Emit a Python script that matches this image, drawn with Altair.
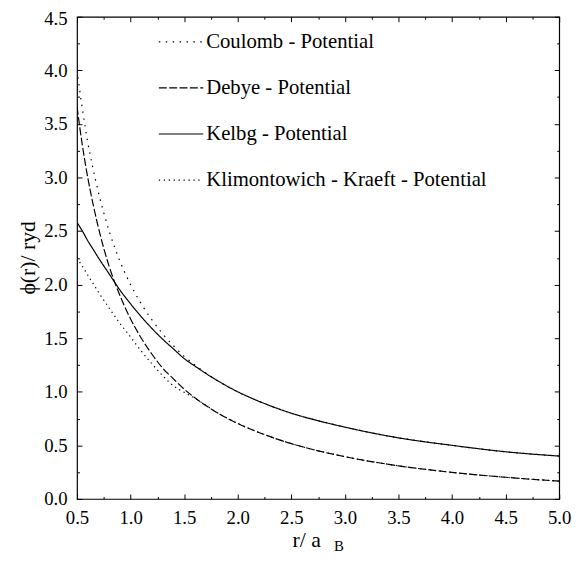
import altair as alt
import pandas as pd

# ---- data ----
r_values = [0.5, 0.55, 0.6, 0.65, 0.7, 0.8, 0.9, 1.0, 1.1, 1.2, 1.3, 1.4, 1.5, 1.6,
            1.8, 2.0, 2.25, 2.5, 2.75, 3.0, 3.5, 4.0, 4.5, 5.0]
coulomb = [4.00, 3.64, 3.33, 3.08, 2.86, 2.50, 2.22, 2.00, 1.82, 1.67, 1.54, 1.43, 1.33, 1.25,
           1.11, 1.00, 0.89, 0.80, 0.73, 0.67, 0.57, 0.50, 0.44, 0.40]
debye = [3.66, 3.30, 3.00, 2.75, 2.53, 2.17, 1.90, 1.68, 1.50, 1.35, 1.22, 1.12, 1.025, 0.944,
         0.81, 0.704, 0.60, 0.516, 0.449, 0.394, 0.309, 0.248, 0.202, 0.166]
kelbg = [2.58, 2.50, 2.41, 2.33, 2.25, 2.10, 1.95, 1.82, 1.70, 1.59, 1.49, 1.40, 1.31, 1.24,
         1.11, 1.00, 0.89, 0.80, 0.73, 0.67, 0.57, 0.50, 0.44, 0.40]
klimontowich = [2.25, 2.17, 2.09, 2.01, 1.93, 1.78, 1.64, 1.51, 1.38, 1.26, 1.15, 1.055, 0.995, 0.94,
                0.81, 0.704, 0.60, 0.516, 0.449, 0.394, 0.309, 0.248, 0.202, 0.166]

series_names = ["Coulomb - Potential", "Debye - Potential", "Kelbg - Potential",
                "Klimontowich - Kraeft - Potential"]
series_values = [coulomb, debye, kelbg, klimontowich]
dash_styles = [[1.5, 5.5], [8, 2.5], [1, 0], [1.3, 3.7]]

x_major = [0.5, 1.0, 1.5, 2.0, 2.5, 3.0, 3.5, 4.0, 4.5, 5.0]
x_minor = [0.75, 1.25, 1.75, 2.25, 2.75, 3.25, 3.75, 4.25, 4.75]
y_major = [0.0, 0.5, 1.0, 1.5, 2.0, 2.5, 3.0, 3.5, 4.0, 4.5]
y_minor = [0.25, 0.75, 1.25, 1.75, 2.25, 2.75, 3.25, 3.75, 4.25]

rows = []
for name, vals in zip(series_names, series_values):
    for r, v in zip(r_values, vals):
        rows.append({"r": r, "phi": v, "series": name})
df = pd.DataFrame(rows)

FONT = "Liberation Serif, Times New Roman, DejaVu Serif, serif"
xscale = alt.Scale(domain=[0.5, 5.0], nice=False, zero=False)
yscale = alt.Scale(domain=[0.0, 4.5], nice=False, zero=False)

base = alt.Chart(df)

main = base.mark_line(color="black", strokeWidth=1.2, interpolate="monotone", clip=True).encode(
    x=alt.X("r:Q", scale=xscale, axis=alt.Axis(
        orient="bottom", values=x_major, format=".1f", tickSize=5, offset=-5, domain=False,
        grid=False, labelFont=FONT, labelFontSize=19, labelColor="black", labelPadding=10,
        labelFlush=False, labelOverlap=False, tickColor="black", tickWidth=1,
        title="r/ a", titleFont=FONT, titleFontSize=22, titleFontWeight="normal",
        titleColor="black", titleX=218, titleY=53, titleAlign="left",
        titleBaseline="alphabetic")),
    y=alt.Y("phi:Q", scale=yscale, axis=alt.Axis(
        orient="left", values=y_major, format=".1f", tickSize=5, offset=-5, domain=False,
        grid=False, labelFont=FONT, labelFontSize=19, labelColor="black", labelPadding=10,
        labelOffset={"condition": {"test": "datum.value >= 4.5", "value": 2}, "value": 0},
        labelFlush=False, labelOverlap=False, tickColor="black", tickWidth=1,
        title="ϕ(r)/ ryd", titleFont=FONT, titleFontSize=22, titleFontWeight="normal",
        titleColor="black", titleX=-55, titleY=244, titleAngle=270, titleAlign="center",
        titleBaseline="middle")),
    strokeDash=alt.StrokeDash("series:N", scale=alt.Scale(domain=series_names, range=dash_styles),
        legend=alt.Legend(orient="none", legendX=82, legendY=2, title=None,
                          symbolType="stroke", symbolSize=2025, symbolStrokeWidth=1.2,
                          symbolStrokeColor="black", labelFont=FONT, labelFontSize=21,
                          labelColor="black", labelOffset=2, rowPadding=12.7, padding=0,
                          labelLimit=400)),
    detail="series:N",
)

minor_bl = base.mark_line(strokeOpacity=0).encode(
    x=alt.X("r:Q", scale=xscale, axis=alt.Axis(
        orient="bottom", values=x_minor, tickSize=2.5, offset=-2.5, domain=False, grid=False,
        labels=False, tickColor="black", tickWidth=1,
        title="B", titleFont=FONT, titleFontSize=15, titleFontWeight="normal",
        titleColor="black", titleX=260, titleY=55, titleAlign="left",
        titleBaseline="alphabetic")),
    y=alt.Y("phi:Q", scale=yscale, axis=alt.Axis(
        orient="left", values=y_minor, tickSize=2.5, offset=-2.5, domain=False, grid=False,
        labels=False, tickColor="black", tickWidth=1, title=None)),
    detail="series:N",
)

major_tr = base.mark_line(strokeOpacity=0).encode(
    x=alt.X("r:Q", scale=xscale, axis=alt.Axis(
        orient="top", values=x_major, tickSize=5, offset=-5, domain=False, grid=False,
        labels=False, tickColor="black", tickWidth=1, title=None)),
    y=alt.Y("phi:Q", scale=yscale, axis=alt.Axis(
        orient="right", values=y_major, tickSize=5, offset=-5, domain=False, grid=False,
        labels=False, tickColor="black", tickWidth=1, title=None)),
    detail="series:N",
)

minor_tr = base.mark_line(strokeOpacity=0).encode(
    x=alt.X("r:Q", scale=xscale, axis=alt.Axis(
        orient="top", values=x_minor, tickSize=2.5, offset=-2.5, domain=False, grid=False,
        labels=False, tickColor="black", tickWidth=1, title=None)),
    y=alt.Y("phi:Q", scale=yscale, axis=alt.Axis(
        orient="right", values=y_minor, tickSize=2.5, offset=-2.5, domain=False, grid=False,
        labels=False, tickColor="black", tickWidth=1, title=None)),
    detail="series:N",
)

chart = alt.layer(main, minor_bl, major_tr, minor_tr).resolve_axis(
    x="independent", y="independent"
).properties(
    width=489, height=489,
    autosize=alt.AutoSizeParams(type="none"),
    padding={"left": 70, "top": 5, "right": 14, "bottom": 54},
    background="white",
).configure(font=FONT).configure_view(stroke="black", strokeWidth=1.2)

chart.save("out.html", embed_options={"renderer": "svg", "actions": False})
